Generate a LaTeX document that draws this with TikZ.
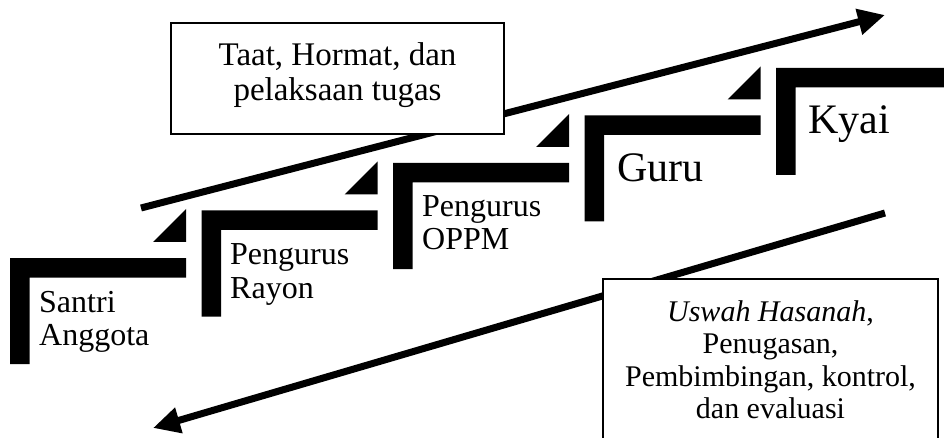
\documentclass[tikz,border=0pt]{standalone}
\usepackage{fontspec}
\setmainfont{Liberation Serif}
\usetikzlibrary{arrows.meta}
\newcommand\mlc[2]{\vtop{\baselineskip=#1\halign{\hfil##\hfil\cr#2\crcr}}}
\newcommand\mll[1]{\vtop{\baselineskip=33pt\halign{##\hfil\cr#1\crcr}}}
\begin{document}
\begin{tikzpicture}[x=1pt,y=-1pt,
  lbl/.style={font=\fontsize{32}{34}\selectfont, inner sep=0pt, anchor=base west},
  biglbl/.style={font=\fontsize{42}{46}\selectfont, inner sep=0pt, anchor=base west},
  boxtext/.style={inner sep=0pt, anchor=base},
  flow/.style={line width=7pt, -{Triangle[length=27pt,width=25pt]}},
  infobox/.style={draw, line width=1.8pt, fill=white, inner sep=0pt}]
\useasboundingbox (0,0) rectangle (944,438);
% arrows (behind the boxes)
\coordinate (u1) at (141,208);
\coordinate (u2) at (885,15);
\coordinate (l1) at (885,213);
\coordinate (l2) at (153,428);
\draw[flow] (u1) -- (u2);
\draw[flow] (l1) -- (l2);
% boxes
\node[infobox, minimum width=333pt, minimum height=111pt] (topbox) at (337.5,78.5) {};
\node[boxtext, font=\fontsize{33}{36}\selectfont] (toptext) at (337.5,66)
  {\mlc{35pt}{Taat, Hormat, dan\cr pelaksaan tugas}};
\node[infobox, minimum width=335pt, minimum height=181pt] (botbox) at (770.5,369.5) {};
\node[boxtext, font=\fontsize{30}{33}\selectfont] (bottext) at (770.5,321)
  {\mlc{32.5pt}{\textit{Uswah Hasanah},\cr Penugasan,\cr Pembimbingan, kontrol,\cr dan evaluasi}};
% stairs
\foreach \i in {0,...,3} {
  \pgfmathsetmacro\xa{10+191.5*\i}
  \pgfmathsetmacro\ya{258-47.5*\i}
  \fill (\xa,\ya) -- (\xa+176,\ya) -- (\xa+176,\ya+19.5) -- (\xa+19.5,\ya+19.5)
        -- (\xa+19.5,\ya+106) -- (\xa,\ya+106) -- cycle;
  \fill (\xa+176,\ya-16) -- (\xa+143,\ya-16) -- (\xa+176,\ya-49) -- cycle;
}
\fill (776,68) -- (950,68) -- (950,87.5) -- (795.5,87.5) -- (795.5,175) -- (776,175) -- cycle;
% labels
\node[lbl] (santri) at (39,312) {\mll{Santri\cr Anggota}};
\node[lbl] (rayon) at (230,265) {\mll{Pengurus\cr Rayon}};
\node[lbl] (oppm) at (422,217) {\mll{Pengurus\cr OPPM}};
\node[biglbl] (guru) at (617,182) {Guru};
\node[biglbl] (kyai) at (808,134) {Kyai};
\end{tikzpicture}
\end{document}
